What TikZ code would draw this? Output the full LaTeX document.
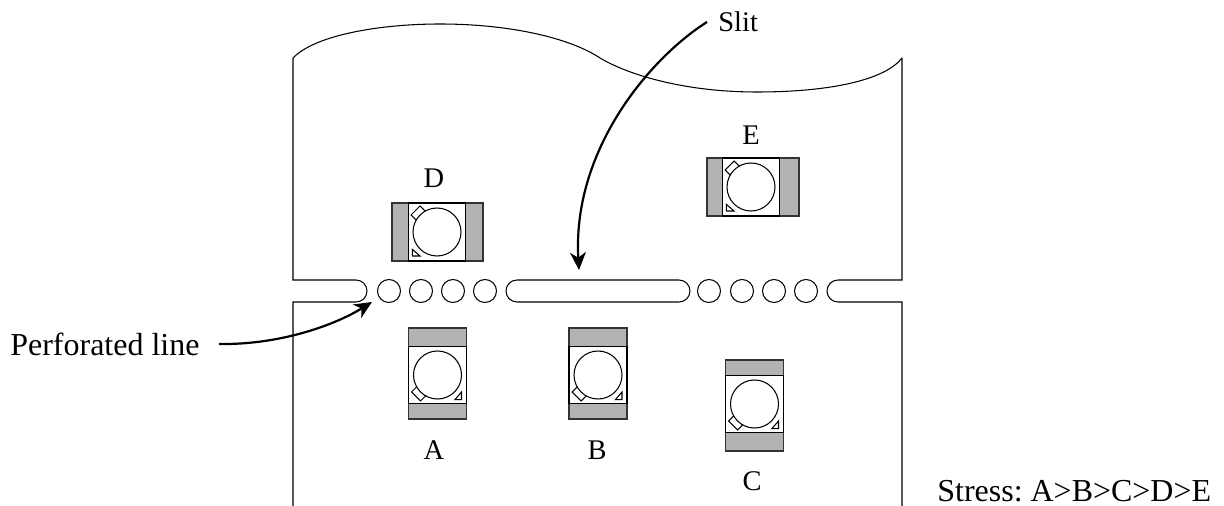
\documentclass[tikz,border=0pt]{standalone}
\usepackage{fontspec}
\setmainfont{Liberation Serif}
\frenchspacing
\usetikzlibrary{arrows.meta}
\tikzset{
  band/.style={draw=black!80,fill=black!30,line width=0.6pt},
  sheet/.style={black,line width=0.6pt},
  lbl/.style={inner sep=0pt,font=\fontsize{16.2}{19}\selectfont},
  biglbl/.style={inner sep=0pt,font=\fontsize{18.2}{22}\selectfont},
  pointer/.style={black,line width=1.25pt,-{Stealth[length=10pt,width=9pt,inset=3pt]}},
  pics/chip/.style n args={2}{code={
    \draw[band] (-#1,-29) rectangle (-28.5,29);
    \draw[band] (28.5,-29) rectangle (#2,29);
    \draw[sheet] (-28.5,-29) rectangle (28.5,29);
    \draw[sheet,fill=white] (-26,-17) -- (-17,-26) -- (-11,-20) -- (-21,-12) -- cycle;
    \draw[sheet,fill=white] (0,0) circle (24);
    \draw[sheet] (-24.7,17.3) -- (-24.7,24) -- (-17,24) -- cycle;
  }}
}
\begin{document}
\begin{tikzpicture}[x=0.02cm,y=-0.02cm]
\useasboundingbox (0,0) rectangle (1224,506);
% sheet outline
\draw[sheet] (293,58) .. controls (315,35) and (380,24) .. (440,24)
  .. controls (510,24) and (570,38) .. (600,58)
  .. controls (625,73) and (680,92) .. (757,92)
  .. controls (830,92) and (885,80) .. (902,58);
\draw[sheet] (293,58) -- (293,280) -- (356,280) arc (-90:90:11) -- (293,302) -- (293,506);
\draw[sheet] (902,58) -- (902,280) -- (838,280) arc (-90:-270:11) -- (902,302) -- (902,506);
% slit and holes
\draw[sheet] (517,280) -- (679,280) arc (-90:90:11) -- (517,302) arc (90:270:11) -- cycle;
\foreach \cx in {389,421,453,485,709,742,774,806}
  \draw[sheet] (\cx,291) circle (11.5);
% chips
\pic at (437,232) {chip={45}{46}};
\pic at (751,187) {chip={44}{48}};
\pic[rotate=90] at (437.5,375) {chip={44}{47}};
\pic[rotate=90] at (598,375) {chip={44}{47}};
\pic[rotate=90] at (754.5,404) {chip={47}{44}};
% labels
\node[lbl] (lblD) at (434,178) {D};
\node[lbl] (lblE) at (751,135) {E};
\node[lbl] (lblA) at (434,450) {A};
\node[lbl] (lblB) at (597,450) {B};
\node[lbl] (lblC) at (752,481) {C};
\node[lbl,anchor=west] (lblslit) at (718,22) {Slit};
\node[biglbl,anchor=west] (lblperf) at (10,344) {Perforated line};
\node[biglbl,anchor=west] (lblstress) at (937,491) {Stress: A>B>C>D>E};
% pointers
\coordinate (slitend) at (579,270);
\coordinate (perfend) at (372,302);
\draw[pointer] ([xshift=-0.22cm]lblslit.west) .. controls (650,58) and (572,150) .. (slitend);
\draw[pointer] ([xshift=0.38cm]lblperf.east) .. controls (280,345) and (335,325) .. (perfend);
\end{tikzpicture}
\end{document}
